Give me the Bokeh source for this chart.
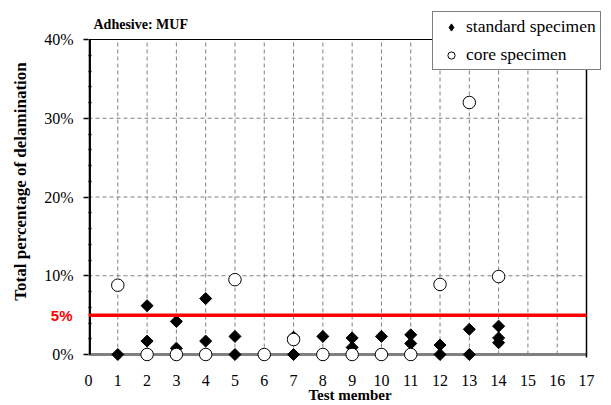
from bokeh.plotting import figure
from bokeh.models import (Label, Legend, LegendItem, FixedTicker, PrintfTickFormatter,
                          Range1d, LinearAxis)
from bokeh.embed import file_html
from bokeh.resources import INLINE
import numpy as np

# ---- data ----
std_member = [1, 2, 2, 3, 3, 4, 4, 5, 5, 7, 7, 8, 8, 9, 9, 10, 10, 11, 11, 12, 12, 13, 13, 14, 14, 14]
std_value = [0, 6.2, 1.7, 4.2, 0.8, 7.1, 1.7, 2.3, 0, 2.2, 0, 2.3, 0, 2.1, 0.9, 2.3, 0, 2.5, 1.4, 1.2, 0, 3.2, 0, 3.6, 2.1, 1.5]
core_member = [1, 2, 3, 4, 5, 6, 7, 8, 9, 10, 11, 12, 13, 14]
core_value = [8.8, 0, 0, 0, 9.5, 0, 1.9, 0, 0, 0, 0, 8.9, 32.0, 9.9]
x_ticks = list(range(0, 18))
y_ticks = [0, 10, 20, 30, 40]
y_minor = [v for v in range(0, 41, 2) if v % 10 != 0]
limit = 5
title_text = "Adhesive: MUF"
x_label = "Test member"
y_label = "Total percentage of delamination"

SERIF = "Liberation Serif"
W, H = 611, 405
FL, FR, FT, FB = 88, 586, 39, 354          # plot-area pixel box (left, right, top, bottom)
x0, x1 = x_ticks[0], x_ticks[-1]
y0, y1 = y_ticks[0], y_ticks[-1]
ppx = (FR - FL) / (x1 - x0)
ppy = (FB - FT) / (y1 - y0)
bottom_pad = 8                               # room below the zero line for markers

p = figure(width=W, height=H, output_backend="svg", toolbar_location=None,
           x_range=Range1d(x0, x1 + (W - FR) / ppx),
           y_range=Range1d(y0 - bottom_pad / ppy, y1 + FT / ppy),
           min_border_left=FL, min_border_right=0, min_border_top=0,
           min_border_bottom=H - FB - bottom_pad)
p.outline_line_color = None
p.background_fill_color = "white"

# axes
xa = p.xaxis[0]
xa.ticker = FixedTicker(ticks=x_ticks)
xa.axis_line_color = None
xa.major_tick_line_color = None
xa.minor_tick_line_color = None
xa.major_label_text_font = SERIF
xa.major_label_text_font_size = "16px"
xa.major_label_text_color = "black"
xa.major_label_standoff = 6
xa.axis_label = x_label
xa.axis_label_text_font = SERIF
xa.axis_label_text_font_size = "15px"
xa.axis_label_text_font_style = "bold"
xa.axis_label_text_color = "black"
xa.axis_label_standoff = -2

ya = p.yaxis[0]
ya.ticker = FixedTicker(ticks=y_ticks, minor_ticks=y_minor)
ya.formatter = PrintfTickFormatter(format="%d%%")
ya.bounds = (y0 - 2.16, y1)      # shifts the centred axis title down a little
ya.axis_line_color = None        # the rule itself is drawn below, from 0 to 40
ya.major_tick_line_color = "black"
ya.major_tick_line_width = 1.5
ya.major_tick_out = 5
ya.major_tick_in = 0
ya.minor_tick_line_color = "black"
ya.minor_tick_line_width = 1.5
ya.minor_tick_in = 3
ya.minor_tick_out = 0
ya.major_label_text_font = SERIF
ya.major_label_text_font_size = "16px"
ya.major_label_text_color = "black"
ya.major_label_standoff = 10
ya.axis_label = y_label
ya.axis_label_text_font = SERIF
ya.axis_label_text_font_size = "17px"
ya.axis_label_text_font_style = "bold"
ya.axis_label_text_color = "black"
ya.axis_label_standoff = 11

# red "5%" label: an outer left axis whose labels are pulled back next to the frame
ya2 = LinearAxis(ticker=FixedTicker(ticks=[limit]), formatter=PrintfTickFormatter(format="%d%%"),
                 axis_line_color=None,
                 major_tick_line_color=None, minor_tick_line_color=None,
                 major_tick_in=0, major_tick_out=0,
                 major_label_standoff=-64, major_label_text_color="#FF0000",
                 major_label_text_font="Liberation Sans", major_label_text_font_style="bold",
                 major_label_text_font_size="15px")
p.add_layout(ya2, "left")

# grids (limited to plot area)
p.xgrid.visible = False
p.ygrid.visible = False
gx = [t for t in x_ticks if x0 < t < x1]
p.segment(x0=gx, y0=[y0] * len(gx), x1=gx, y1=[y1] * len(gx),
          line_color="#808080", line_dash="4 3", line_width=1)
gy = [t for t in y_ticks if y0 < t < y1]
p.segment(x0=[x0] * len(gy), y0=gy, x1=[x1] * len(gy), y1=gy,
          line_color="#808080", line_dash="4 3", line_width=1)

# zero line, borders
p.segment(x0=[x0], y0=[y0], x1=[x1], y1=[y0], line_color="#808080", line_width=3)
p.segment(x0=[x0], y0=[y1], x1=[x1], y1=[y1], line_color="black", line_width=1.2)
p.segment(x0=[x1], y0=[y0 - 3 / ppy], x1=[x1], y1=[y1], line_color="black", line_width=1.5)
p.segment(x0=[x0 + 1.2 / ppx], y0=[y0], x1=[x0 + 1.2 / ppx], y1=[y1],
          line_color="black", line_width=2.5)

# data
r_std = p.scatter(std_member, std_value, marker="square", angle=np.pi / 4, size=8.5,
                  fill_color="black", line_color="black", line_width=1)
r_core = p.scatter(core_member, core_value, marker="circle", size=12.5,
                   fill_color="white", line_color="black", line_width=1)
# legend swatch for the diamonds (hidden renderer)
r_std_leg = p.scatter(std_member, std_value, marker="diamond", size=13,
                      fill_color="black", line_color="black", visible=False)

# 5% limit line
p.segment(x0=[x0], y0=[limit], x1=[x1], y1=[limit], line_color="#FF0000", line_width=3.5)

# title
p.add_layout(Label(x=x0, y=y1, x_offset=5, y_offset=15, text=title_text,
                   text_align="left", text_baseline="alphabetic", text_color="black",
                   text_font=SERIF, text_font_style="bold", text_font_size="14px"))

legend = Legend(items=[LegendItem(label="standard specimen", renderers=[r_std_leg]),
                       LegendItem(label="core specimen", renderers=[r_core])],
                location=(344, 292), label_text_font=SERIF, label_text_font_size="17.5px",
                label_text_color="black", border_line_color="black", border_line_width=1.2,
                background_fill_color="white", background_fill_alpha=1.0,
                inactive_fill_alpha=0.0,
                padding=4, spacing=7, glyph_width=28, glyph_height=18, label_height=16,
                label_standoff=1, margin=0)
p.add_layout(legend, "center")

open("out.html", "w").write(file_html(p, INLINE))
